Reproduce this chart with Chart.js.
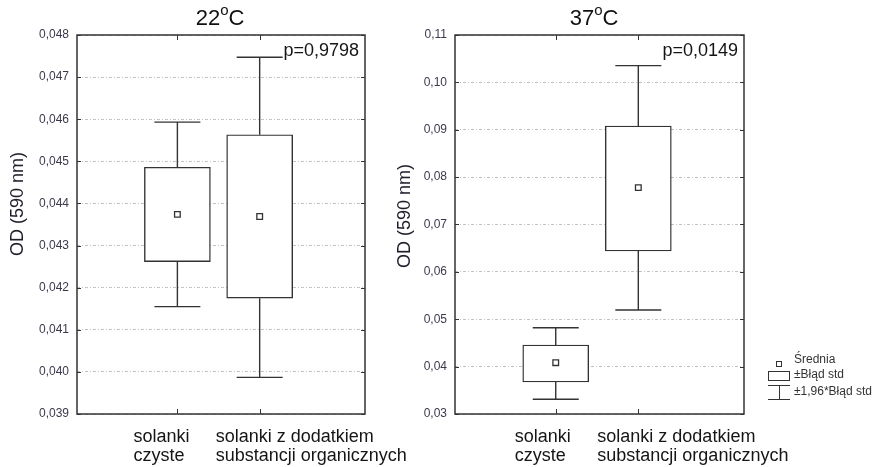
<!DOCTYPE html>
<html>
<head>
<meta charset="utf-8">
<script src="https://cdn.jsdelivr.net/npm/chart.js@4"></script>
<style>
  html, body { margin: 0; padding: 0; background: #fff; }
  #wrap { position: relative; width: 878px; height: 467px; overflow: hidden;
          font-family: "Liberation Sans", Arial, sans-serif; color: #111; }
  canvas { position: absolute; top: 0; }
  .title { position: absolute; top: 7px; font-size: 22px; line-height: 22px; white-space: nowrap;
           transform: translateX(-50%); }
  .title span { font-size: 15px; line-height: 0; position: relative; top: -10px; }
  .ytitle { position: absolute; font-size: 18px; line-height: 18px; white-space: nowrap; color: #1c1c28;
            transform: translate(-50%, -50%) rotate(-90deg); }
  .leg { position: absolute; left: 794px; font-size: 12px; line-height: 12px; white-space: nowrap; color: #333; }
  .sym { position: absolute; box-sizing: border-box; }
  .box { border: 1.3px solid #333; background: #fff; }
  .ln { background: #333; }
</style>
</head>
<body>
<div id="wrap">
  <canvas id="c37" width="483" height="467" style="left:395px;width:483px;height:467px"></canvas>
  <canvas id="c22" width="420" height="467" style="left:0;width:420px;height:467px"></canvas>

  <div class="title" style="left:220px">22<span>o</span>C</div>
  <div class="title" style="left:594px">37<span>o</span>C</div>

  <div class="ytitle" style="left:17px;top:204px">OD (590 nm)</div>
  <div class="ytitle" style="left:404px;top:216px">OD (590 nm)</div>

  <div class="sym box" style="left:776px;top:361px;width:6px;height:6px"></div>
  <div class="leg" style="top:353px">Średnia</div>
  <div class="sym box" style="left:768px;top:371px;width:22px;height:10px"></div>
  <div class="leg" style="top:368px">±Błąd std</div>
  <div class="sym ln" style="left:768px;top:384.5px;width:22px;height:1.3px"></div>
  <div class="sym ln" style="left:778.5px;top:385px;width:1.3px;height:14px"></div>
  <div class="sym ln" style="left:768px;top:398.5px;width:22px;height:1.3px"></div>
  <div class="leg" style="top:385px">±1,96*Błąd std</div>
</div>

<script>
// Groups on the category axis
const categories = [
  ['solanki', 'czyste'],
  ['solanki z dodatkiem', 'substancji organicznych']
];

// 22 °C: mean, ±SE box, ±1.96·SE whiskers
const mean22 = [0.04374, 0.04369];
const boxLow22 = [0.04262, 0.04175];
const boxHigh22 = [0.04486, 0.04563];
const whiskLow22 = [0.04155, 0.03987];
const whiskHigh22 = [0.04593, 0.04747];
const ticks22 = [0.039, 0.040, 0.041, 0.042, 0.043, 0.044, 0.045, 0.046, 0.047, 0.048];
const p22 = 'p=0,9798';

// 37 °C
const mean37 = [0.04083, 0.07778];
const boxLow37 = [0.03675, 0.0644];
const boxHigh37 = [0.04456, 0.09079];
const whiskLow37 = [0.0331, 0.05195];
const whiskHigh37 = [0.04822, 0.10353];
const ticks37 = [0.03, 0.04, 0.05, 0.06, 0.07, 0.08, 0.09, 0.10, 0.11];
const p37 = 'p=0,0149';

const INK = '#333333';
const FONT = '"Liberation Sans", Arial, sans-serif';
Chart.defaults.font.family = FONT;

// Frame, inward tick marks, whiskers, p-value and group labels
const boxPlotDecor = {
  id: 'boxPlotDecor',
  beforeDatasetsDraw(chart, args, o) {
    const ctx = chart.ctx, a = chart.chartArea;
    const x = chart.scales.x, y = chart.scales.y;
    ctx.save();
    ctx.strokeStyle = INK;
    ctx.lineWidth = 1.4;
    // whiskers
    categories.forEach((c, i) => {
      const px = x.getPixelForValue(i + 1);
      const seg = (from, to) => {
        const y0 = y.getPixelForValue(from), y1 = y.getPixelForValue(to);
        ctx.beginPath();
        ctx.moveTo(px, y0); ctx.lineTo(px, y1);
        ctx.moveTo(px - 23, y1); ctx.lineTo(px + 23, y1);
        ctx.stroke();
      };
      seg(o.boxHigh[i], o.whiskHigh[i]);
      seg(o.boxLow[i], o.whiskLow[i]);
    });
    // inward ticks
    ctx.lineWidth = 1;
    ctx.beginPath();
    categories.forEach((c, i) => {
      const px = Math.round(x.getPixelForValue(i + 1)) + 0.5;
      ctx.moveTo(px, a.top); ctx.lineTo(px, a.top + 5);
      ctx.moveTo(px, a.bottom); ctx.lineTo(px, a.bottom - 5);
    });
    o.ticks.forEach(v => {
      const py = Math.round(y.getPixelForValue(v)) + 0.5;
      ctx.moveTo(a.left, py); ctx.lineTo(a.left + 4, py);
      ctx.moveTo(a.right, py); ctx.lineTo(a.right - 4, py);
    });
    ctx.stroke();
    // frame
    ctx.lineWidth = 1.5;
    ctx.strokeRect(a.left, a.top, a.right - a.left, a.bottom - a.top);
    ctx.restore();
  },
  afterDraw(chart, args, o) {
    const ctx = chart.ctx, a = chart.chartArea, x = chart.scales.x;
    ctx.save();
    ctx.fillStyle = '#151515';
    ctx.font = '18px ' + FONT;
    ctx.textBaseline = 'alphabetic';
    ctx.textAlign = 'right';
    ctx.fillText(o.p, a.right - 6, a.top + 21);
    ctx.textAlign = 'left';
    categories.forEach((lines, i) => {
      const lx = x.getPixelForValue(i + 1) - o.labelShift;
      lines.forEach((t, k) => ctx.fillText(t, lx, a.bottom + 28 + k * 19));
    });
    ctx.restore();
  }
};

function boxChart(id, o) {
  const xs = categories.map((c, i) => i + 1);
  return new Chart(document.getElementById(id), {
    type: 'bar',
    data: {
      datasets: [
        {
          type: 'scatter', label: 'Średnia',
          data: xs.map((v, i) => ({ x: v, y: o.mean[i] })),
          pointStyle: 'rect', pointRadius: 4, pointHoverRadius: 4,
          backgroundColor: '#fff', borderColor: INK, borderWidth: 1.3, order: 0
        },
        {
          type: 'bar', label: '±Błąd std',
          data: xs.map((v, i) => ({ x: v, y: [o.boxLow[i], o.boxHigh[i]] })),
          backgroundColor: '#fff', borderColor: INK, borderWidth: 1.4,
          borderSkipped: false, barThickness: 66, order: 1
        }
      ]
    },
    options: {
      responsive: false, animation: false, events: [],
      layout: { padding: { top: 35, right: o.padRight, left: 0, bottom: 0 } },
      plugins: {
        legend: { display: false }, tooltip: { enabled: false },
        boxPlotDecor: o
      },
      scales: {
        x: {
          type: 'linear', min: -0.22, max: 3.28, offset: false,
          grid: { display: false, offset: false }, border: { display: false },
          ticks: { display: false },
          afterFit(s) { s.height = 53; }
        },
        y: {
          type: 'linear', min: o.ticks[0], max: o.ticks[o.ticks.length - 1],
          afterBuildTicks(s) { s.ticks = o.ticks.map(v => ({ value: v })); },
          afterFit(s) { s.width = o.axisWidth; },
          ticks: {
            padding: 8, color: '#3a3a4c', font: { size: 12 },
            callback: v => v.toFixed(o.dec).replace('.', ',')
          },
          grid: { color: '#c2c2c2', lineWidth: 1, drawTicks: false },
          border: { display: false, dash: [3, 2, 1, 2] }
        }
      }
    },
    plugins: [boxPlotDecor]
  });
}

boxChart('c22', {
  mean: mean22, boxLow: boxLow22, boxHigh: boxHigh22,
  whiskLow: whiskLow22, whiskHigh: whiskHigh22,
  ticks: ticks22, dec: 3, p: p22,
  axisWidth: 77, padRight: 55, labelShift: 44
});
boxChart('c37', {
  mean: mean37, boxLow: boxLow37, boxHigh: boxHigh37,
  whiskLow: whiskLow37, whiskHigh: whiskHigh37,
  ticks: ticks37, dec: 2, p: p37,
  axisWidth: 60, padRight: 134, labelShift: 41
});
</script>
</body>
</html>
